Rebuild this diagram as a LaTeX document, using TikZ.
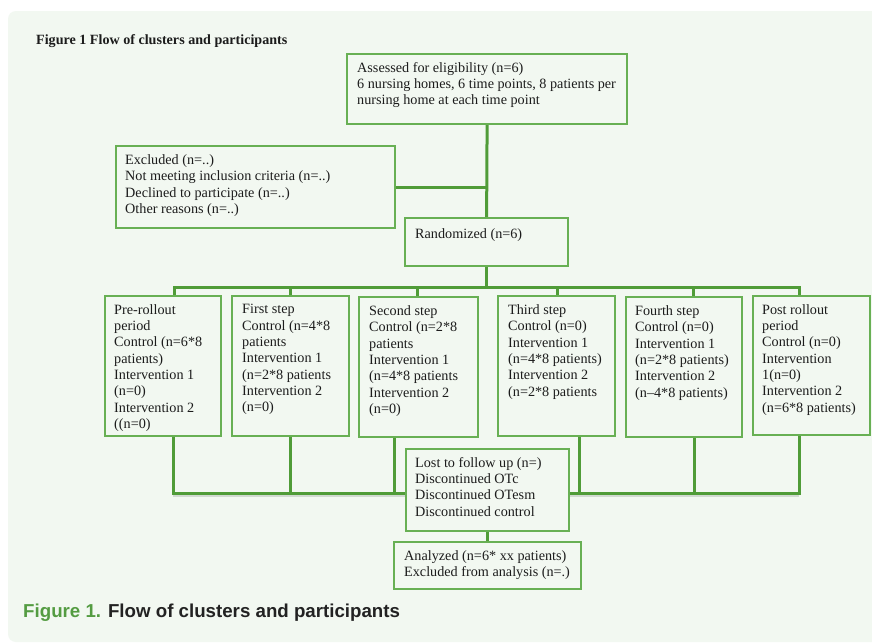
\documentclass[tikz,border=0pt]{standalone}
\usepackage{fontspec}
\setmainfont{Liberation Serif}
\newfontfamily\capfont{Liberation Sans}
\usetikzlibrary{calc}
\definecolor{panelbg}{HTML}{F2F8F1}
\definecolor{linegreen}{RGB}{80,156,56}
\definecolor{boxgreen}{RGB}{104,176,84}
\definecolor{inkdark}{HTML}{1C1C1C}
\definecolor{capgreen}{RGB}{84,156,66}
\definecolor{lineshade}{RGB}{150,160,150}

\begin{document}
\begin{tikzpicture}[x=1pt,y=-1pt,
  box/.style={draw=boxgreen, line width=1.2pt, fill=panelbg, inner sep=0pt, anchor=north west},
  txt/.style={anchor=north west, inner sep=0pt, align=left,
              font=\fontsize{14.2}{16.3}\selectfont, text=inkdark},
  link/.style={draw=linegreen, line width=3pt, line join=miter},
  shade/.style={draw=lineshade, line width=3pt, opacity=0.35}
]
\useasboundingbox (0,0) rectangle (872,643);

% page panel
\fill[white] (0,0) rectangle (872,643);
\fill[panelbg] (872,11) [rounded corners=8pt] -- (8,11) -- (8,642) [sharp corners] -- (872,642) -- cycle;

% boxes (empty frames, sized; the text is set separately)
\node[box, minimum width=279, minimum height=69] (assess) at (347,54) {};
\node[box, minimum width=278, minimum height=81] (excl)   at (116,146) {};
\node[box, minimum width=162, minimum height=47] (rand)   at (405,218) {};
\node[box, minimum width=115, minimum height=139] (s1) at (105,296) {};
\node[box, minimum width=116, minimum height=139] (s2) at (232,296) {};
\node[box, minimum width=118, minimum height=139] (s3) at (359,297) {};
\node[box, minimum width=116, minimum height=139] (s4) at (498,296) {};
\node[box, minimum width=115, minimum height=139] (s5) at (626,297) {};
\node[box, minimum width=116, minimum height=138] (s6) at (753,296) {};
\node[box, minimum width=162, minimum height=81] (lost) at (406,449) {};
\node[box, minimum width=186, minimum height=46] (anal) at (394,542) {};

% bus points
\coordinate (t1) at (174,287);
\coordinate (t2) at (290,287);
\coordinate (t3) at (417,287);
\coordinate (t4) at (557,287);
\coordinate (t5) at (693,287);
\coordinate (t6) at (799,287);
\coordinate (u1) at (173,493);
\coordinate (u2) at (290,493);
\coordinate (u3) at (394,493);
\coordinate (u4) at (579,493);
\coordinate (u5) at (694,493);
\coordinate (u6) at (799,493);

% soft shadow under the lower bus
\draw[shade] ([yshift=-2pt]u1) -- ([yshift=-2pt]u1 -| lost.west);
\draw[shade] ([yshift=-2pt]u1 -| lost.east) -- ([yshift=-2pt]u6);

% connectors
\draw[link] (assess.south) -- (rand.north);
\draw[link] (excl.east) -- (excl.east -| assess.south);
\draw[link] (rand.south) -- (rand.south |- t1);
\draw[link] (t1 |- s1.north) -- (t1) -- (t6) -- (t6 |- s6.north);
\draw[link] (t2) -- (t2 |- s2.north);
\draw[link] (t3) -- (t3 |- s3.north);
\draw[link] (t4) -- (t4 |- s4.north);
\draw[link] (t5) -- (t5 |- s5.north);
\draw[link] (u1 |- s1.south) -- (u1) -- (u1 -| lost.west);
\draw[link] (u6 |- s6.south) -- (u6) -- (u6 -| lost.east);
\draw[link] (u2 |- s2.south) -- (u2);
\draw[link] (u3 |- s3.south) -- (u3);
\draw[link] (u4 |- s4.south) -- (u4);
\draw[link] (u5 |- s5.south) -- (u5);
\draw[link] (lost.south) -- (anal.north);

% redraw frames over the line ends
\foreach \b in {assess,excl,rand,s1,s2,s3,s4,s5,s6,lost,anal}
  \draw[boxgreen, line width=1.2pt] (\b.north west) rectangle (\b.south east);

% box texts
\node[txt] (assess-t) at ([xshift=10pt,yshift=-8pt]assess.north west)
  {Assessed for eligibility (n=6)\\6 nursing homes, 6 time points, 8 patients per\\nursing home at each time point};
\node[txt] (excl-t) at ([xshift=9pt,yshift=-8.5pt]excl.north west)
  {Excluded (n=..)\\Not meeting inclusion criteria (n=..)\\Declined to participate (n=..)\\Other reasons (n=..)};
\node[txt] (rand-t) at ([xshift=10pt,yshift=-10pt]rand.north west)
  {Randomized (n=6)};
\node[txt] (s1-t) at ([xshift=9pt,yshift=-8.3pt]s1.north west)
  {Pre-rollout\\period\\Control (n=6*8\\patients)\\Intervention 1\\(n=0)\\Intervention 2\\((n=0)};
\node[txt] (s2-t) at ([xshift=10pt,yshift=-8.3pt]s2.north west)
  {First step\\Control (n=4*8\\patients\\Intervention 1\\(n=2*8 patients\\Intervention 2\\(n=0)};
\node[txt] (s3-t) at ([xshift=10pt,yshift=-8.5pt]s3.north west)
  {Second step\\Control (n=2*8\\patients\\Intervention 1\\(n=4*8 patients\\Intervention 2\\(n=0)};
\node[txt] (s4-t) at ([xshift=10pt,yshift=-8.5pt]s4.north west)
  {Third step\\Control (n=0)\\Intervention 1\\(n=4*8 patients)\\Intervention 2\\(n=2*8 patients};
\node[txt] (s5-t) at ([xshift=9pt,yshift=-8.5pt]s5.north west)
  {Fourth step\\Control (n=0)\\Intervention 1\\(n=2*8 patients)\\Intervention 2\\(n–4*8 patients)};
\node[txt] (s6-t) at ([xshift=9pt,yshift=-8.3pt]s6.north west)
  {Post rollout\\period\\Control (n=0)\\Intervention\\1(n=0)\\Intervention 2\\(n=6*8 patients)};
\node[txt] (lost-t) at ([xshift=9pt,yshift=-8pt]lost.north west)
  {Lost to follow up (n=)\\Discontinued OTc\\Discontinued OTesm\\Discontinued control};
\node[txt] (anal-t) at ([xshift=10pt,yshift=-8pt]anal.north west)
  {Analyzed (n=6* xx patients)\\Excluded from analysis (n=.)};

% headings
\node[anchor=base west, inner sep=0pt, text=inkdark,
      font=\fontsize{14.1}{16}\selectfont\bfseries] (title) at (36,44.5)
  {Figure 1 Flow of clusters and participants};
\node[anchor=base west, inner sep=0pt, text={rgb,255:red,34;green,34;blue,34},
      font=\capfont\bfseries\fontsize{18.7}{22}\selectfont] (caption) at (23,617.5)
  {\textcolor{capgreen}{Figure 1.} Flow of clusters and participants};
\end{tikzpicture}
\end{document}
